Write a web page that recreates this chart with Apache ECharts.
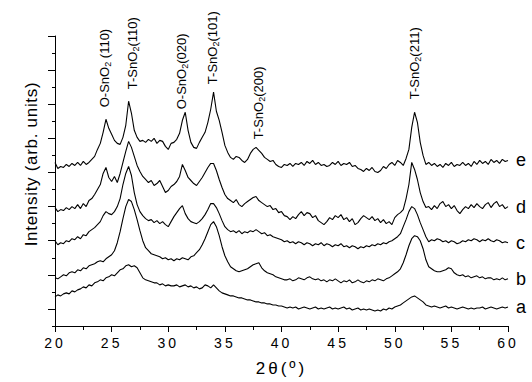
<!DOCTYPE html>
<html>
<head>
<meta charset="utf-8">
<script src="https://cdn.jsdelivr.net/npm/echarts@6/dist/echarts.min.js"></script>
<style>
    html, body { margin: 0; padding: 0; background: #fff; }
    #chart { width: 532px; height: 382px; }
    /* spaced-out lettering of the original plot */
    #chart text[style*="tickfont"] { letter-spacing: 3px; }
    #chart text[style*="titlefont"] { letter-spacing: 3px; }
    #chart text[style*="yfont"] { letter-spacing: 0.7px; }
</style>
</head>
<body>
<div id="chart"></div>
<script>
// 2theta grid of the scans (0.25 deg step, 20..60)
const twoTheta = []
for (let i = 0; i <= 160; i++) twoTheta.push(20 + i * 0.25)

const sampleNames = ['a', 'b', 'c', 'd', 'e']

// stacked intensities (arb. units)
const intensityA = [
    29, 31, 30, 32, 33, 32, 35, 34,
    36, 37, 39, 38, 41, 40, 43, 44,
    46, 45, 48, 49, 51, 50, 53, 56,
    57, 60, 61, 59, 60, 58, 53, 48,
    46, 45, 44, 43, 43, 41, 42, 40,
    41, 40, 40, 41, 39, 40, 41, 39,
    40, 38, 39, 37, 38, 41, 40, 38,
    41, 38, 35, 33, 32, 31, 30, 30,
    29, 28, 28, 27, 26, 26, 25, 24,
    24, 23, 23, 22, 22, 21, 21, 20,
    20, 19, 18, 19, 18, 19, 17, 18,
    19, 18, 17, 18, 19, 17, 18, 17,
    18, 19, 17, 18, 17, 18, 19, 17,
    18, 16, 17, 18, 16, 17, 16, 17,
    16, 15, 16, 15, 17, 16, 18, 17,
    19, 20, 21, 23, 25, 27, 29, 30,
    28, 26, 24, 21, 20, 19, 20, 19,
    18, 19, 20, 18, 19, 18, 17, 18,
    19, 18, 17, 18, 17, 18, 18, 19,
    17, 18, 19, 18, 17, 18, 19, 18,
    19
]
const intensityB = [
    48, 47, 49, 51, 50, 53, 54, 53,
    56, 55, 58, 57, 60, 61, 62, 64,
    65, 64, 67, 69, 71, 75, 83, 94,
    107, 119, 126, 124, 116, 106, 95, 85,
    78, 75, 72, 71, 70, 69, 67, 68,
    66, 67, 65, 67, 66, 68, 67, 66,
    69, 70, 73, 76, 81, 87, 94, 101,
    104, 99, 90, 79, 70, 64, 59, 57,
    55, 54, 55, 56, 57, 59, 61, 62,
    63, 58, 55, 53, 52, 51, 49, 48,
    47, 46, 46, 47, 45, 46, 48, 47,
    46, 48, 49, 47, 46, 47, 45, 46,
    44, 46, 45, 47, 45, 43, 45, 44,
    46, 43, 44, 46, 44, 43, 45, 44,
    46, 45, 47, 46, 45, 47, 48, 50,
    52, 54, 57, 63, 71, 80, 87, 90,
    89, 85, 77, 66, 59, 57, 55, 54,
    54, 55, 56, 58, 57, 53, 51, 50,
    51, 49, 50, 48, 49, 50, 48, 49,
    47, 48, 48, 46, 47, 46, 48, 46,
    47
]
const intensityC = [
    85, 81, 83, 82, 85, 84, 87, 86,
    89, 87, 91, 90, 94, 96, 98, 101,
    104, 110, 114, 112, 111, 114, 119, 127,
    141, 152, 159, 150, 133, 121, 114, 110,
    107, 105, 106, 103, 105, 102, 104, 101,
    99, 104, 109, 113, 117, 120, 112, 107,
    104, 103, 102, 104, 107, 111, 116, 122,
    122, 118, 112, 105, 99, 96, 94, 95,
    93, 95, 92, 94, 93, 95, 94, 96,
    94, 92, 93, 90, 91, 89, 88, 87,
    86, 84, 85, 83, 84, 82, 84, 83,
    81, 83, 82, 80, 82, 81, 83, 80,
    82, 81, 79, 81, 80, 82, 79, 80,
    78, 80, 79, 77, 79, 78, 80, 79,
    81, 80, 82, 81, 83, 82, 84, 85,
    87, 89, 92, 99, 106, 114, 119, 117,
    111, 103, 96, 89, 84, 86, 85, 87,
    86, 84, 85, 83, 85, 84, 82, 83,
    85, 84, 86, 85, 87, 86, 84, 86,
    85, 87, 85, 84, 86, 85, 83, 84,
    83
]
const intensityD = [
    118, 114, 116, 115, 118, 116, 119, 117,
    121, 117, 122, 119, 125, 127, 131, 136,
    141, 152, 158, 148, 144, 149, 143, 152,
    163, 174, 184, 178, 169, 160, 154, 149,
    146, 143, 145, 140, 142, 145, 139, 133,
    135, 139, 141, 144, 149, 161, 155, 148,
    145, 142, 140, 144, 148, 153, 158, 162,
    162, 155, 146, 138, 131, 127, 125, 123,
    126, 121, 119, 122, 124, 126, 128, 129,
    125, 123, 121, 119, 120, 116, 117, 113,
    114, 110, 109, 106, 109, 107, 111, 114,
    110, 113, 112, 108, 110, 105, 103, 101,
    104, 108, 106, 110, 108, 111, 106, 108,
    104, 107, 101, 103, 107, 110, 108, 106,
    109, 105, 107, 103, 106, 102, 104, 101,
    108, 111, 113, 116, 127, 141, 163, 156,
    146, 133, 124, 118, 119, 116, 120, 117,
    122, 124, 119, 121, 117, 120, 115, 112,
    116, 119, 117, 121, 118, 122, 119, 117,
    121, 123, 118, 122, 124, 119, 121, 117,
    119
]
const intensityE = [
    163, 157, 159, 158, 161, 159, 162, 160,
    163, 160, 164, 161, 163, 166, 169, 176,
    182, 193, 206, 197, 191, 185, 182, 181,
    188, 200, 224, 212, 195, 188, 184, 185,
    183, 186, 184, 187, 182, 185, 184, 179,
    176, 182, 183, 186, 192, 205, 213, 195,
    183, 178, 177, 183, 188, 193, 203, 216,
    233, 214, 205, 193, 180, 173, 168, 166,
    169, 168, 165, 163, 166, 172, 176, 178,
    175, 172, 168, 166, 164, 165, 161, 159,
    158, 161, 160, 162, 159, 162, 161, 163,
    160, 164, 162, 165, 161, 163, 160, 161,
    159, 160, 163, 161, 164, 160, 162, 161,
    163, 159, 160, 157, 156, 154, 157, 155,
    158, 154, 153, 155, 159, 157, 161, 163,
    160, 165, 163, 160, 167, 176, 198, 213,
    203, 183, 170, 161, 163, 160, 162, 159,
    161, 158, 162, 160, 163, 159, 161, 160,
    163, 160, 162, 159, 164, 161, 165, 162,
    164, 161, 166, 163, 165, 162, 166, 164,
    165
]
const intensities = [intensityA, intensityB, intensityC, intensityD, intensityE]

const peakLabels = ['O-SnO{s|2} (110)', 'T-SnO{s|2}(110)', 'O-SnO{s|2}(020)',
    'T-SnO{s|2}(101)', 'T-SnO{s|2}(200)', 'T-SnO{s|2}(211)']

// where each (rotated) peak label starts, in axis units [2theta, intensity]
const peakLabelAnchor = [[24.35, 218], [26.8, 236], [31.2, 216], [33.95, 241], [38.0, 186], [51.7, 226]]

const FONT = "'Liberation Sans', Arial, sans-serif"

const chart = echarts.init(document.getElementById('chart'), null, { renderer: 'svg' })

const series = sampleNames.map(function (name, k) {
    return {
        name: name,
        type: 'line',
        xAxisIndex: 0,
        yAxisIndex: 0,
        data: twoTheta.map((t, i) => [t, intensities[k][i]]),
        symbol: 'none',
        silent: true,
        lineStyle: { color: '#000', width: 1.1 },
        endLabel: {
            show: true,
            formatter: p => p.seriesName,
            color: '#000',
            fontSize: 18,
            fontFamily: FONT,
            distance: 8
        }
    }
})

chart.setOption({
    animation: false,
    backgroundColor: '#fff',
    grid: [
        { left: 55, right: 24, top: 36, bottom: 56 },
        // second grid only carries the long y ticks (start one tick above the bottom)
        { left: 55, right: 24, top: 36, bottom: 73.06 }
    ],
    xAxis: [{
        gridIndex: 0,
        type: 'value',
        min: 20,
        max: 60,
        interval: 5,
        name: '2θ(º)',
        nameLocation: 'middle',
        nameGap: 34,
        nameTextStyle: { color: '#000', fontSize: 17, fontFamily: "'Liberation Sans', titlefont, sans-serif" },
        axisLine: { lineStyle: { color: '#000', width: 1 } },
        axisTick: { length: 6, lineStyle: { color: '#000' } },
        minorTick: { show: true, splitNumber: 2, length: 4, lineStyle: { color: '#000' } },
        splitLine: { show: false },
        axisLabel: { color: '#000', fontSize: 14, margin: 10, fontFamily: "'Liberation Sans', tickfont, sans-serif" }
    }, {
        gridIndex: 1,
        type: 'value',
        min: 20,
        max: 60,
        show: false
    }],
    yAxis: [{
        gridIndex: 0,
        type: 'value',
        min: 0,
        max: 289,
        interval: 17,
        axisLine: { show: true, lineStyle: { color: '#000', width: 1 } },
        axisTick: { show: true, length: 3, lineStyle: { color: '#000' } },
        axisLabel: { show: false },
        splitLine: { show: false }
    }, {
        gridIndex: 1,
        type: 'value',
        min: 17,
        max: 289,
        interval: 34,
        axisLine: { show: false },
        axisTick: { show: true, length: 7, lineStyle: { color: '#000' } },
        axisLabel: { show: false },
        splitLine: { show: false }
    }],
    series: series
})

// rotated peak labels placed from data coordinates
const labelGraphics = peakLabels.map(function (txt, i) {
    const pt = chart.convertToPixel({ gridIndex: 0 }, peakLabelAnchor[i])
    return {
        type: 'text',
        x: pt[0],
        y: pt[1],
        rotation: Math.PI / 2,
        z: 100,
        style: {
            text: txt,
            fill: '#000',
            fontSize: 13,
            fontFamily: FONT,
            lineHeight: 16,
            align: 'left',
            verticalAlign: 'middle',
            rich: {
                s: { fontSize: 9, lineHeight: 9, verticalAlign: 'bottom', fill: '#000', fontFamily: FONT }
            }
        }
    }
})

labelGraphics.push({
    type: 'text',
    x: 31,
    y: 164,
    rotation: Math.PI / 2,
    style: {
        text: 'Intensity (arb. units)',
        fill: '#000',
        fontSize: 17,
        fontFamily: "'Liberation Sans', yfont, sans-serif",
        align: 'center',
        verticalAlign: 'middle'
    }
})

chart.setOption({ graphic: labelGraphics })
</script>
</body>
</html>
